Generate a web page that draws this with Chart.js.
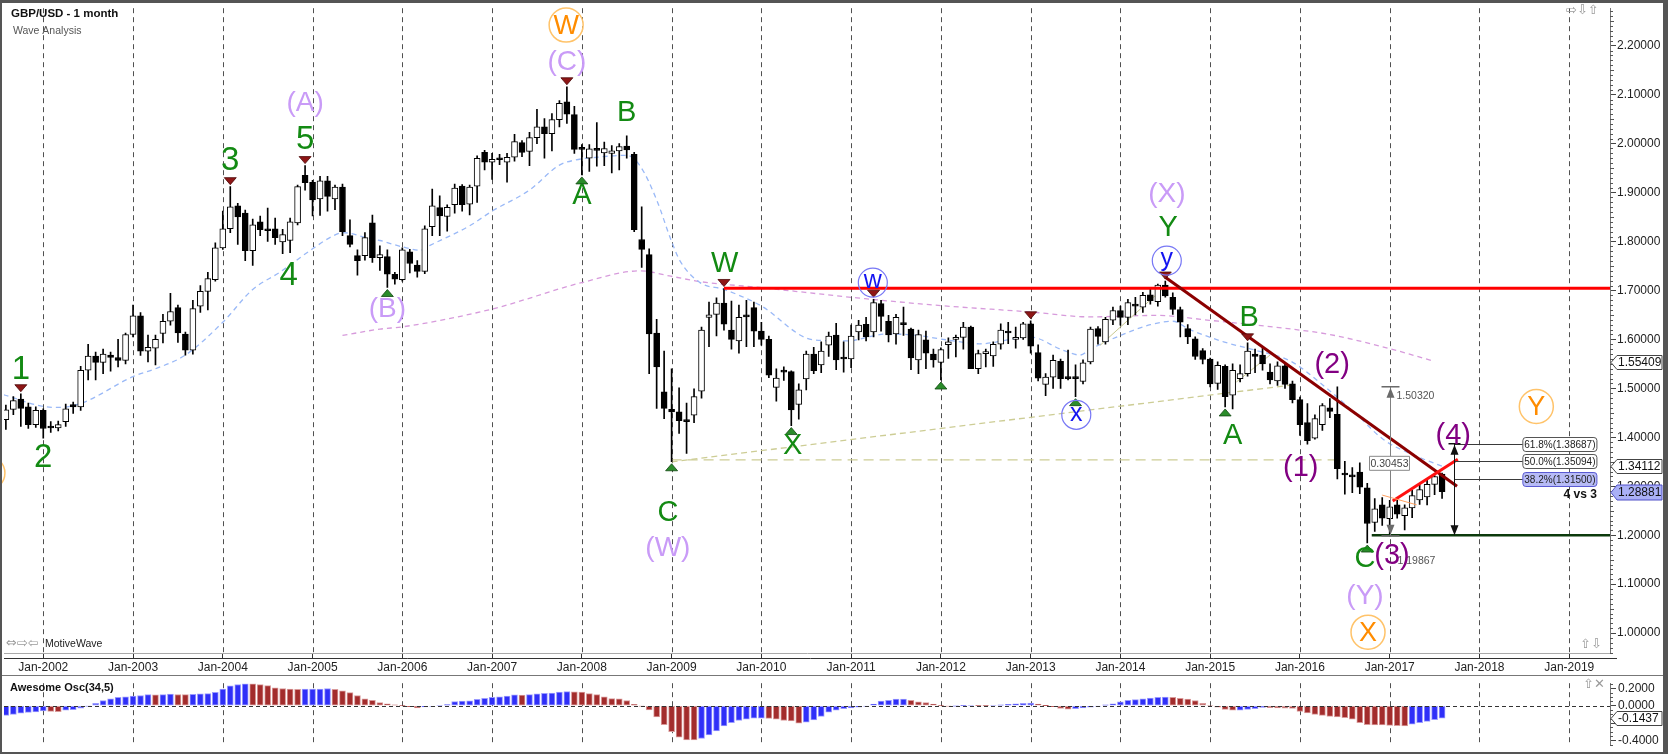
<!DOCTYPE html>
<html><head><meta charset="utf-8"><title>GBP/USD - 1 month</title>
<script src="https://cdn.jsdelivr.net/npm/chart.js@4.4.1/dist/chart.umd.min.js"></script>
<style>
html,body{margin:0;padding:0;background:#fff;overflow:hidden;}
#wrap{position:relative;width:1668px;height:754px;background:#fff;}
canvas{position:absolute;left:0;}
#main{top:0;}
#osc{top:674px;}
#frame{position:absolute;left:0;top:0;width:1668px;height:754px;box-sizing:border-box;border-style:solid;border-color:#555;border-width:3px 5px 2px 2px;pointer-events:none;}
</style></head>
<body><div id="wrap">
<canvas id="main" width="1668" height="674" style="width:1668px;height:674px"></canvas>
<canvas id="osc" width="1668" height="80" style="width:1668px;height:80px"></canvas>
<div id="frame"></div></div>
<script>
// ---------- DATA ----------
const FIRST_MONTH = -5;            // first candle = Aug 2001 (month index 0 = Jan 2002)
const yearLabels = ['Jan-2002','Jan-2003','Jan-2004','Jan-2005','Jan-2006','Jan-2007','Jan-2008','Jan-2009','Jan-2010',
  'Jan-2011','Jan-2012','Jan-2013','Jan-2014','Jan-2015','Jan-2016','Jan-2017','Jan-2018','Jan-2019'];
const priceTicks = [1.0,1.1,1.2,1.3,1.4,1.5,1.6,1.7,1.8,1.9,2.0,2.1,2.2];
const oscTicks = [-0.4,-0.2,0.0,0.2];

const open = [
1.436,1.457,1.478,1.462,1.426,1.455,1.421,1.419,1.432,1.467,
1.462,1.537,1.566,1.553,1.568,1.563,1.557,1.610,1.648,1.576,
1.582,1.612,1.637,1.665,1.611,1.578,1.668,1.698,1.722,1.787,
1.826,1.873,1.858,1.781,1.840,1.826,1.826,1.799,1.802,1.838,
1.935,1.921,1.887,1.924,1.887,1.911,1.812,1.771,1.771,1.838,
1.767,1.769,1.733,1.722,1.779,1.752,1.739,1.830,1.869,1.851,
1.875,1.913,1.876,1.913,1.982,1.962,1.969,1.962,1.972,2.002,
1.984,2.012,2.034,2.020,2.049,2.085,2.059,1.990,1.970,1.990,
1.981,1.980,1.985,1.995,1.978,1.804,1.773,1.613,1.493,1.457,
1.452,1.434,1.445,1.494,1.645,1.651,1.674,1.619,1.597,1.650,
1.665,1.617,1.600,1.502,1.535,1.534,1.467,1.519,1.570,1.548,
1.588,1.609,1.562,1.560,1.615,1.631,1.615,1.673,1.637,1.611,
1.633,1.621,1.558,1.599,1.570,1.553,1.589,1.600,1.604,1.625,
1.540,1.571,1.566,1.590,1.617,1.600,1.603,1.632,1.573,1.508,
1.523,1.555,1.522,1.521,1.514,1.554,1.622,1.595,1.639,1.659,
1.645,1.672,1.666,1.691,1.677,1.711,1.686,1.661,1.622,1.601,
1.577,1.560,1.510,1.545,1.486,1.520,1.530,1.570,1.568,1.533,
1.515,1.546,1.509,1.477,1.430,1.398,1.426,1.460,1.447,1.325,
1.323,1.329,1.297,1.226,1.262,1.234,1.262,1.240,1.256,1.272,
1.278,1.304,1.3247];
const high = [
1.466,1.483,1.489,1.470,1.462,1.458,1.432,1.433,1.468,1.472,
1.545,1.590,1.574,1.580,1.574,1.600,1.613,1.670,1.655,1.609,
1.609,1.651,1.694,1.670,1.615,1.680,1.710,1.737,1.797,1.862,
1.912,1.878,1.864,1.846,1.852,1.868,1.848,1.825,1.848,1.915,
1.955,1.925,1.933,1.933,1.915,1.917,1.844,1.783,1.818,1.854,
1.791,1.783,1.737,1.787,1.784,1.761,1.832,1.907,1.893,1.875,
1.917,1.916,1.915,1.975,1.986,1.980,1.978,1.980,2.019,2.006,
2.023,2.070,2.051,2.061,2.088,2.116,2.076,1.998,1.998,2.043,
2.003,1.996,2.000,2.016,1.982,1.871,1.785,1.641,1.576,1.540,
1.501,1.470,1.499,1.625,1.676,1.685,1.704,1.678,1.670,1.680,
1.676,1.635,1.607,1.540,1.544,1.536,1.509,1.576,1.584,1.595,
1.615,1.633,1.595,1.629,1.639,1.645,1.682,1.680,1.649,1.651,
1.666,1.623,1.619,1.617,1.580,1.583,1.603,1.609,1.635,1.627,
1.578,1.580,1.595,1.632,1.635,1.625,1.635,1.638,1.589,1.530,
1.568,1.560,1.578,1.548,1.558,1.625,1.626,1.645,1.666,1.668,
1.682,1.686,1.696,1.702,1.713,1.7192,1.695,1.666,1.630,1.605,
1.581,1.562,1.554,1.548,1.550,1.548,1.593,1.580,1.582,1.550,
1.554,1.551,1.515,1.482,1.469,1.446,1.469,1.479,1.503,1.351,
1.338,1.348,1.306,1.275,1.277,1.271,1.271,1.262,1.292,1.305,
1.312,1.322,1.327];
const low = [
1.416,1.446,1.422,1.418,1.420,1.398,1.410,1.413,1.422,1.449,
1.455,1.517,1.517,1.530,1.535,1.544,1.550,1.605,1.567,1.554,
1.548,1.593,1.629,1.594,1.568,1.570,1.655,1.660,1.719,1.784,
1.818,1.794,1.761,1.751,1.812,1.800,1.794,1.775,1.777,1.834,
1.905,1.852,1.853,1.862,1.865,1.812,1.789,1.731,1.762,1.757,
1.741,1.706,1.713,1.719,1.736,1.727,1.734,1.812,1.812,1.821,
1.858,1.862,1.854,1.880,1.946,1.927,1.957,1.921,1.964,1.973,
1.955,2.000,1.970,1.985,2.034,2.041,1.980,1.936,1.943,1.954,
1.955,1.940,1.946,1.970,1.820,1.747,1.530,1.459,1.438,1.350,
1.408,1.367,1.430,1.480,1.585,1.607,1.619,1.580,1.572,1.585,
1.585,1.588,1.522,1.474,1.516,1.424,1.437,1.497,1.530,1.532,
1.565,1.538,1.533,1.542,1.599,1.597,1.605,1.617,1.595,1.590,
1.608,1.538,1.530,1.540,1.543,1.517,1.561,1.564,1.580,1.540,
1.530,1.544,1.545,1.580,1.591,1.582,1.600,1.572,1.515,1.485,
1.500,1.500,1.517,1.483,1.509,1.550,1.590,1.590,1.630,1.629,
1.630,1.650,1.655,1.672,1.668,1.686,1.651,1.605,1.591,1.559,
1.550,1.503,1.498,1.462,1.458,1.513,1.525,1.532,1.537,1.509,
1.506,1.500,1.470,1.404,1.386,1.396,1.414,1.440,1.315,1.284,
1.287,1.285,1.184,1.208,1.220,1.1987,1.235,1.211,1.236,1.263,
1.262,1.283,1.275];
const close = [
1.456,1.475,1.459,1.426,1.455,1.418,1.419,1.426,1.458,1.462,
1.537,1.566,1.553,1.570,1.563,1.557,1.610,1.648,1.576,1.584,
1.600,1.637,1.657,1.613,1.578,1.663,1.698,1.724,1.787,1.826,
1.871,1.850,1.781,1.834,1.824,1.822,1.808,1.814,1.840,1.912,
1.920,1.885,1.924,1.892,1.911,1.820,1.794,1.761,1.808,1.767,
1.773,1.733,1.723,1.783,1.755,1.739,1.826,1.873,1.852,1.870,
1.909,1.875,1.911,1.970,1.962,1.968,1.967,1.972,2.004,1.982,
2.012,2.034,2.020,2.049,2.082,2.060,1.988,1.988,1.989,1.986,
1.990,1.985,1.994,1.987,1.824,1.784,1.611,1.544,1.459,1.452,
1.434,1.432,1.483,1.619,1.650,1.674,1.631,1.600,1.645,1.646,
1.617,1.600,1.527,1.521,1.533,1.456,1.497,1.570,1.536,1.576,
1.607,1.558,1.560,1.607,1.629,1.605,1.675,1.647,1.609,1.645,
1.630,1.562,1.610,1.572,1.558,1.579,1.595,1.602,1.625,1.540,
1.571,1.573,1.590,1.619,1.613,1.604,1.632,1.586,1.521,1.523,
1.557,1.520,1.520,1.520,1.552,1.621,1.606,1.641,1.659,1.645,
1.675,1.668,1.690,1.679,1.711,1.689,1.661,1.635,1.605,1.565,
1.559,1.509,1.547,1.483,1.537,1.530,1.576,1.565,1.550,1.517,
1.546,1.508,1.477,1.426,1.393,1.438,1.465,1.453,1.336,1.323,
1.319,1.298,1.224,1.254,1.235,1.258,1.243,1.256,1.281,1.293,
1.304,1.320,1.2888];
const ao = [
-0.112,-0.099,-0.087,-0.077,-0.071,-0.061,-0.064,-0.067,-0.051,-0.045,
-0.029,-0.004,0.029,0.061,0.080,0.096,0.103,0.112,0.118,0.128,
0.126,0.128,0.135,0.130,0.128,0.133,0.137,0.140,0.156,0.192,
0.230,0.246,0.253,0.252,0.245,0.232,0.208,0.199,0.192,0.191,
0.192,0.193,0.194,0.199,0.189,0.173,0.151,0.119,0.080,0.062,
0.038,0.022,0.012,0.004,-0.010,-0.025,-0.013,-0.006,0.006,0.013,
0.048,0.054,0.058,0.074,0.087,0.096,0.103,0.112,0.127,0.124,
0.128,0.138,0.144,0.147,0.157,0.163,0.160,0.157,0.141,0.128,
0.103,0.083,0.080,0.061,0.016,-0.003,-0.048,-0.128,-0.218,-0.298,
-0.362,-0.394,-0.396,-0.378,-0.336,-0.292,-0.234,-0.196,-0.170,-0.154,
-0.144,-0.142,-0.145,-0.155,-0.170,-0.176,-0.200,-0.190,-0.164,-0.122,
-0.074,-0.050,-0.035,-0.025,-0.015,-0.005,0.020,0.054,0.064,0.077,
0.078,0.064,0.045,0.038,0.019,0.003,-0.003,-0.002,0.003,0.006,
0.004,0.003,0.006,0.010,0.016,0.022,0.028,0.032,0.020,0.002,
-0.010,-0.030,-0.040,-0.035,-0.025,-0.015,-0.005,0.010,0.022,0.045,
0.064,0.070,0.080,0.090,0.096,0.099,0.098,0.087,0.077,0.061,
0.029,0.006,-0.016,-0.042,-0.051,-0.050,-0.042,-0.035,-0.020,-0.022,
-0.026,-0.028,-0.032,-0.064,-0.083,-0.099,-0.112,-0.122,-0.128,-0.138,
-0.154,-0.196,-0.218,-0.221,-0.222,-0.227,-0.230,-0.232,-0.212,-0.196,
-0.180,-0.160,-0.1437];

// moving averages: [month, value]
const fastMA = [[-5.3,1.487],[0,1.463],[2,1.461],[5,1.469],[12,1.524],[15,1.540],[19,1.568],[24,1.635],[28,1.702],
 [31.6,1.737],[36,1.785],[38.7,1.811],[40.1,1.818],[43.2,1.808],[45,1.802],[48,1.789],[50.4,1.782],[51.7,1.792],
 [57,1.832],[60,1.862],[65,1.905],[69,1.956],[71,1.966],[74,1.972],[78,1.976],[79.8,1.954],[82,1.885],[83.9,1.804],
 [85.1,1.761],[87.8,1.716],[91,1.702],[95.8,1.670],[103,1.599],[107.4,1.597],[112.8,1.611],[116.3,1.609],[120.8,1.599],
 [125.2,1.591],[131.9,1.605],[136.3,1.578],[138.6,1.568],[140,1.580],[144,1.608],[148,1.630],[151,1.637],[153.3,1.620],
 [157.8,1.595],[162,1.578],[166.7,1.556],[171.2,1.505],[175.6,1.446],[179.2,1.395],[183,1.365],[187,1.341]];
const slowMA = [[40,1.608],[45,1.621],[48.2,1.626],[60,1.662],[72,1.716],[79.8,1.740],[83.9,1.729],[87.8,1.718],
 [95.8,1.706],[108,1.686],[120,1.669],[132,1.656],[140,1.646],[148.8,1.649],[155.9,1.639],[168,1.619],[172,1.610],
 [180,1.581],[185.8,1.556]];

// drawn lines: [month, price]
const resistance170 = [[91,1.7043],[209.45,1.7043]];
const downTrend = [[150,1.727],[189,1.300]];
const support120 = [[177.6,1.2],[209.45,1.2]];
const wave4Line = [[180.4,1.270],[189.1,1.355]];
const oliveTrend = [[84,1.350],[167.5,1.508]];
const oliveLevel = [[84,1.354],[173.4,1.354]];
const oliveSmall1 = [[141.3,1.588],[150,1.708]];
const oliveSmall2 = [[159.5,1.513],[164,1.568]];
const orangeSmall = [[179,1.282],[183.6,1.262]];

const markersHigh = [-3,25,35,70,91,111,132,150,161];
const markersLow = [46,72,84,100,120,138,158,177];

const waveLabels = [
 ['1',-3,1.538,'gd'],['2',0,1.357,'gd'],['3',25,1.964,'gd'],['4',32.8,1.729,'gd'],['5',35,2.007,'gd'],
 ['A',72,1.893,'g'],['B',78,2.063,'g'],['C',83.5,1.246,'g'],['W',91.1,1.753,'g'],['X',100.2,1.382,'g'],
 ['Y',150.4,1.828,'g'],['A',159,1.402,'g'],['B',161.2,1.643,'g'],['C',176.7,1.152,'g'],
 ['(A)',35,2.082,'lp'],['(B)',46,1.662,'lp'],['(C)',70,2.167,'lp'],['(W)',83.5,1.173,'lp'],['(X)',150.2,1.897,'lp'],['(Y)',176.7,1.075,'lp'],
 ['(1)',168.1,1.337,'dp'],['(2)',172.3,1.548,'dp'],['(3)',180.3,1.158,'dp'],['(4)',188.5,1.402,'dp']
];
const circledLabels = [['W',69.9,2.242,'o'],['X',177.1,1.002,'o'],['Y',199.6,1.463,'o'],['',-7.4,1.327,'o'],
 ['w',110.9,1.716,'b'],['x',138.1,1.446,'b'],['y',150.2,1.761,'b']];

const measure = {m:180, low:1.19867, high:1.50320};
const fibLevels = [['61.8%',1.38687],['50.0%',1.35094],['38.2%',1.31500]];
const fibTarget = {m:188.6, base:1.20};
const priceTags = [1.55409,1.34112,1.28881];
const oscTag = -0.1437;

// ---------- LAYOUT / STYLE ----------
const FONT = '"Liberation Sans", Arial, sans-serif';
const X_MIN = -5.25, X_MAX = 209.45;
const Y_MIN = 0.9594, Y_MAX = 2.2765;
const O_MIN = -0.451, O_MAX = 0.2606;
const months = open.map((_, i) => FIRST_MONTH + i);
const yearTicks = yearLabels.map((_, i) => i * 12);
const idx = m => m - FIRST_MONTH;
const styles = {
  g:{color:'#138a13',size:29}, gd:{color:'#138a13',size:33},
  lp:{color:'#c99bf7',size:28}, dp:{color:'#820082',size:29},
  o:{color:'#ff8c00',ring:'#ffc36a',r:17,size:27}, b:{color:'#1414f0',ring:'#7878f5',r:14.5,size:25}
};

function font(sz, bold){ return (bold?'bold ':'') + sz + 'px ' + FONT; }
function tri(ctx,x,tip,down,fill,stroke){
  const b = down ? tip-7 : tip+7;
  ctx.beginPath(); ctx.moveTo(x,tip); ctx.lineTo(x-6,b); ctx.lineTo(x+6,b); ctx.closePath();
  ctx.fillStyle=fill; ctx.fill(); ctx.lineWidth=0.8; ctx.strokeStyle=stroke; ctx.stroke();
}
function head(ctx,x,tip,up,w,h,color){
  const b = up ? tip+h : tip-h;
  ctx.beginPath(); ctx.moveTo(x,tip); ctx.lineTo(x-w/2,b); ctx.lineTo(x+w/2,b); ctx.closePath();
  ctx.fillStyle=color; ctx.fill();
}
function rbox(ctx,x,y,w,h,fill,stroke,r){
  ctx.beginPath(); if (ctx.roundRect) ctx.roundRect(x,y,w,h,r); else ctx.rect(x,y,w,h);
  ctx.fillStyle=fill; ctx.fill(); ctx.lineWidth=1; ctx.strokeStyle=stroke; ctx.stroke();
}
function tag(ctx,x0,y,w,h,text,fill,stroke,color){
  ctx.beginPath(); ctx.moveTo(x0,y); ctx.lineTo(x0+6,y-h/2); ctx.lineTo(x0+w,y-h/2); ctx.lineTo(x0+w,y+h/2);
  ctx.lineTo(x0+6,y+h/2); ctx.closePath(); ctx.fillStyle=fill; ctx.fill(); ctx.lineWidth=1; ctx.strokeStyle=stroke; ctx.stroke();
  ctx.fillStyle=color; ctx.font=font(12); ctx.textAlign='left'; ctx.textBaseline='middle'; ctx.fillText(text,x0+7,y+0.5);
}
function hline(ctx,x1,x2,y,color,w){ ctx.beginPath(); ctx.moveTo(x1,y); ctx.lineTo(x2,y); ctx.strokeStyle=color; ctx.lineWidth=w||1; ctx.stroke(); }
function vline(ctx,x,y1,y2,color,w){ ctx.beginPath(); ctx.moveTo(x,y1); ctx.lineTo(x,y2); ctx.strokeStyle=color; ctx.lineWidth=w||1; ctx.stroke(); }

const yearGrid = {
  id:'yearGrid',
  beforeDatasetsDraw(chart){
    const {ctx, chartArea:a, scales:{x}} = chart;
    ctx.save(); ctx.setLineDash([5,4]);
    yearTicks.forEach(v => { const px = Math.round(x.getPixelForValue(v)) + 0.5; vline(ctx,px,a.top,a.bottom,'#505050',1); });
    ctx.restore();
  }
};

const mainDecor = {
  id:'mainDecor',
  afterDatasetsDraw(chart){
    const {ctx, chartArea:a} = chart;
    const X = v => chart.scales.x.getPixelForValue(v), Y = v => chart.scales.y.getPixelForValue(v);
    ctx.save();
    markersHigh.forEach(m => tri(ctx, X(m), Y(high[idx(m)]) - 2, true, '#8e1616', '#4a0808'));
    markersLow.forEach(m => tri(ctx, X(m), Y(low[idx(m)]) + 2, false, '#2a8c2a', '#124812'));
    // measurement tool
    const mx = Math.round(X(measure.m)) + 0.5, yT = Y(measure.high), yB = Y(measure.low);
    vline(ctx,mx,yT,yB,'#808080',1);
    hline(ctx,mx-9,mx+9,yT,'#6a6a6a',1.5); hline(ctx,mx-9,mx+9,yB,'#6a6a6a',1.5);
    head(ctx,mx,yT+1,true,8,10,'#6a6a6a'); head(ctx,mx,yB-1,false,8,10,'#6a6a6a');
    ctx.font=font(10.5); ctx.fillStyle='#555'; ctx.textAlign='left'; ctx.textBaseline='middle';
    ctx.fillText(measure.high.toFixed(5), mx+6, yT+9);
    ctx.fillText(measure.low.toFixed(5), mx+7, yB+25);
    const midY = (yT+yB)/2 + 2;
    rbox(ctx, mx-21, midY-7, 40, 14, '#fff', '#8a8a8a', 0);
    ctx.fillStyle='#444'; ctx.textAlign='center'; ctx.fillText((measure.high-measure.low).toFixed(5), mx-1, midY+0.5);
    // fib target arrow + levels
    const ax = Math.round(X(fibTarget.m)) + 0.5, bx1 = X(197.8), bx2 = X(207.7);
    const yTop = Y(fibLevels[0][1]), yBase = Y(fibTarget.base);
    fibLevels.forEach(([pct,v],i) => {
      const y = Math.round(Y(v)) + 0.5;
      hline(ctx, ax, bx1, y, '#3a3a3a', 1);
      const blue = i === fibLevels.length-1;
      rbox(ctx, bx1, y-7, bx2-bx1, 14, blue?'#b7bbf6':'#fff', blue?'#5a5ad2':'#555', 3);
      ctx.fillStyle='#222'; ctx.font=font(10); ctx.textAlign='center'; ctx.textBaseline='middle';
      ctx.fillText(pct+'('+v.toFixed(5)+')', (bx1+bx2)/2, y+0.5);
    });
    vline(ctx, ax, yTop, yBase, '#111', 1);
    hline(ctx, ax-6, ax+6, yTop, '#111', 1.5);
    head(ctx, ax, yTop+1, true, 8, 10, '#111');
    head(ctx, ax, yBase, false, 8, 10, '#111');
    ctx.fillStyle='#111'; ctx.font=font(12,true); ctx.textAlign='right'; ctx.textBaseline='middle';
    ctx.fillText('4 vs 3', bx2, Y(fibLevels[2][1]) + 16);
    // wave labels
    ctx.textAlign='center'; ctx.textBaseline='middle';
    waveLabels.forEach(([t,m,p,s]) => { const st = styles[s]; ctx.font=font(st.size); ctx.fillStyle=st.color; ctx.fillText(t, X(m), Y(p)); });
    circledLabels.forEach(([t,m,p,s]) => {
      const st = styles[s], x = X(m), y = Y(p);
      ctx.beginPath(); ctx.arc(x, y, st.r, 0, Math.PI*2); ctx.lineWidth = s==='o'?1.5:1.2; ctx.strokeStyle=st.ring; ctx.stroke();
      ctx.font=font(st.size); ctx.fillStyle=st.color; ctx.fillText(t, x, y + (s==='b'?-1:1));
    });
    ctx.restore();
  },
  afterDraw(chart){
    const {ctx, chartArea:a} = chart;
    const Y = v => chart.scales.y.getPixelForValue(v);
    ctx.save();
    // minor ticks on price axis
    for (let k = Math.ceil(Y_MIN*100); k <= Math.floor(Y_MAX*100); k++) {
      if (k % 10 === 0) continue;
      const y = Math.round(Y(k/100)) + 0.5; hline(ctx, a.right, a.right + (k%5===0?4:3), y, '#555', 1);
    }
    hline(ctx, a.left, a.right+7, a.bottom+5.5, '#333', 1);
    // value tags
    tag(ctx, a.right+1, Math.round(Y(priceTags[0]))+0.5, 51, 14, priceTags[0].toFixed(5), '#fff', '#444', '#111');
    tag(ctx, a.right+1, Math.round(Y(priceTags[1]))+0.5, 51, 14, priceTags[1].toFixed(5), '#fff', '#444', '#111');
    tag(ctx, a.right+1, Math.round(Y(priceTags[2]))+0.5, 51, 15, priceTags[2].toFixed(5), '#aab0f6', '#5050c8', '#111');
    // titles & icons
    ctx.textBaseline='middle'; ctx.textAlign='left';
    ctx.fillStyle='#111'; ctx.font=font(11.5,true); ctx.fillText('GBP/USD - 1 month', 11, 14);
    ctx.fillStyle='#555'; ctx.font=font(10.5); ctx.fillText('Wave Analysis', 13, 31);
    ctx.fillStyle='#9a9a9a'; ctx.font='13px "DejaVu Sans"'; ctx.fillText('\u21E8\u21E9\u21E7', 1566, 11);
    ctx.fillText('\u21E7\u21E9', 1580, 645);
    ctx.fillText('\u21D4\u21E8\u21E6', 6, 644);
    ctx.fillStyle='#222'; ctx.font=font(10.5); ctx.fillText('MotiveWave', 45, 644);
    ctx.restore();
  }
};

const oscDecor = {
  id:'oscDecor',
  afterDatasetsDraw(chart){
    const {ctx, chartArea:a} = chart; const Y = v => chart.scales.y.getPixelForValue(v);
    ctx.save(); ctx.setLineDash([4,3]);
    hline(ctx, a.left, a.right, Math.round(Y(0))+0.5, '#333', 1);
    ctx.restore();
  },
  afterDraw(chart){
    const {ctx, chartArea:a} = chart; const Y = v => chart.scales.y.getPixelForValue(v);
    ctx.save();
    hline(ctx, 0, 1668, 1.5, '#777', 1);
    for (let k = Math.ceil(O_MIN*20); k <= Math.floor(O_MAX*20); k++) {
      if (k % 4 === 0) continue; const y = Math.round(Y(k/20)) + 0.5; hline(ctx, a.right, a.right+3, y, '#555', 1);
    }
    tag(ctx, a.right+1, Math.round(Y(oscTag))+0.5, 51, 14, oscTag.toFixed(4), '#fff', '#444', '#111');
    ctx.textBaseline='middle'; ctx.textAlign='left';
    ctx.fillStyle='#111'; ctx.font=font(11,true); ctx.fillText('Awesome Osc(34,5)', 10, 14);
    ctx.fillStyle='#9a9a9a'; ctx.font='13px "DejaVu Sans"'; ctx.fillText('\u21E7\u2715', 1583, 11);
    ctx.restore();
  }
};

const lineDs = (pts, color, width, dash, order, tension) => ({
  type:'line', data: pts.map(([x,y]) => ({x,y})), borderColor:color, borderWidth:width, borderDash:dash||[],
  pointRadius:0, fill:false, tension: tension||0, cubicInterpolationMode: tension ? 'monotone' : 'default', order
});

new Chart(document.getElementById('main'), {
  type:'bar',
  data:{ datasets:[
    lineDs(slowMA, '#d79bdc', 1.3, [5,4], 10, 0.4),
    lineDs(fastMA, '#9ab9f7', 1.3, [5,4], 9, 0.4),
    lineDs(oliveLevel, '#cdcd95', 1.3, [10,6], 8),
    lineDs(oliveTrend, '#cdcd95', 1.3, [6,4], 8),
    lineDs(oliveSmall1, '#c8c890', 1, [], 8),
    lineDs(oliveSmall2, '#c8c890', 1, [], 8),
    { type:'bar', data: months.map((m,i)=>({x:m, y:[low[i], high[i]]})), backgroundColor:'#000', borderWidth:0,
      barThickness:1, grouped:false, order:7 },
    { type:'bar', data: months.map((m,i)=>({x:m, y:[open[i], close[i]]})),
      backgroundColor: c => close[c.dataIndex] >= open[c.dataIndex] ? '#fff' : '#000',
      borderColor:'#000', borderWidth:1, borderSkipped:false, barThickness:6, minBarLength:2, grouped:false, order:6 },
    lineDs(resistance170, '#ff0000', 3, [], 3),
    lineDs(downTrend, '#8b0000', 3, [], 2),
    lineDs(support120, '#0c3a0c', 2.5, [], 2),
    lineDs(orangeSmall, '#ffa060', 1, [], 1),
    lineDs(wave4Line, '#ff1010', 3, [], 1)
  ]},
  options:{
    responsive:false, animation:false, devicePixelRatio:1,
    layout:{ padding:{ left:4, right:5, top:4, bottom:0 } },
    plugins:{ legend:{display:false}, tooltip:{enabled:false} },
    scales:{
      x:{ type:'linear', min:X_MIN, max:X_MAX, offset:false,
        afterBuildTicks: s => { s.ticks = yearTicks.map(v => ({value:v})); },
        afterFit: s => { s.height = 21; },
        grid:{ drawOnChartArea:false, drawTicks:true, tickLength:5, color:'#333', offset:false },
        border:{ display:true, color:'#aaa' },
        ticks:{ callback:(v,i) => yearLabels[i], font:{size:12, family:FONT}, color:'#222', padding:2, maxRotation:0, autoSkip:false } },
      y:{ type:'linear', position:'right', min:Y_MIN, max:Y_MAX,
        afterBuildTicks: s => { s.ticks = priceTicks.map(v => ({value:v})); },
        afterFit: s => { s.width = 53; },
        grid:{ drawOnChartArea:false, tickLength:6, color:'#444' },
        border:{ display:true, color:'#777' },
        ticks:{ callback: v => Number(v).toFixed(5), font:{size:12, family:FONT}, color:'#222', padding:1 } }
    }
  },
  plugins:[yearGrid, mainDecor]
});

new Chart(document.getElementById('osc'), {
  type:'bar',
  data:{ datasets:[{ data: months.map((m,i)=>({x:m, y:ao[i]})),
    backgroundColor: c => (c.dataIndex === 0 || ao[c.dataIndex] > ao[c.dataIndex-1]) ? '#2f2ff8' : '#a32c2c',
    borderColor: c => (c.dataIndex === 0 || ao[c.dataIndex] > ao[c.dataIndex-1]) ? '#9a9aff' : '#d99a9a',
    borderWidth:1, borderSkipped:false, barThickness:6, grouped:false }]},
  options:{
    responsive:false, animation:false, devicePixelRatio:1,
    layout:{ padding:{ left:4, right:5, top:4, bottom:2 } },
    plugins:{ legend:{display:false}, tooltip:{enabled:false} },
    scales:{
      x:{ type:'linear', min:X_MIN, max:X_MAX, offset:false, display:false },
      y:{ type:'linear', position:'right', min:O_MIN, max:O_MAX,
        afterBuildTicks: s => { s.ticks = oscTicks.map(v => ({value:v})); },
        afterFit: s => { s.width = 53; },
        grid:{ drawOnChartArea:false, tickLength:6, color:'#444' },
        border:{ display:true, color:'#777' },
        ticks:{ callback: v => Number(v).toFixed(4), font:{size:12, family:FONT}, color:'#222', padding:2 } }
    }
  },
  plugins:[yearGrid, oscDecor]
});
</script>
</body></html>
